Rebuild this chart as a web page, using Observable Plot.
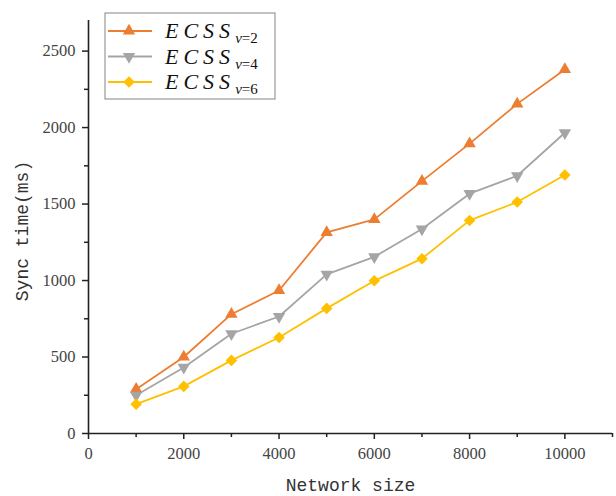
<!DOCTYPE html>
<html><head><meta charset="utf-8">
<script src="https://cdn.jsdelivr.net/npm/d3@7"></script>
<script src="https://cdn.jsdelivr.net/npm/@observablehq/plot@0.6"></script>
<style>
body{margin:0;background:#fff}
#chart{width:616px;height:496px;position:relative}
</style>
</head><body><div id="chart"></div>
<script>
// ---- data ----
const networkSize = [1000, 2000, 3000, 4000, 5000, 6000, 7000, 8000, 9000, 10000];
const seriesSubs = ["v=2", "v=4", "v=6"];
const syncV2 = [290, 500, 780, 935, 1315, 1400, 1650, 1895, 2155, 2380];
const syncV4 = [250, 432, 652, 765, 1040, 1155, 1337, 1568, 1685, 1966];
const syncV6 = [192, 308, 478, 628, 818, 998, 1143, 1393, 1513, 1690];
const xTicks = [0, 2000, 4000, 6000, 8000, 10000];
const xMinorTicks = [1000, 3000, 5000, 7000, 9000, 11000];
const yTicks = [0, 500, 1000, 1500, 2000, 2500];
const yMinorTicks = [250, 750, 1250, 1750, 2250];
const xTitle = "Network size";
const yTitle = "Sync time(ms)";
const colors = ["#ED7D31", "#A5A5A5", "#FFC000"];

const triangleDown = {
  draw(ctx, size) {
    const y = -Math.sqrt(size / (Math.sqrt(3) * 3));
    ctx.moveTo(0, -2 * y);
    ctx.lineTo(-Math.sqrt(3) * y, y);
    ctx.lineTo(Math.sqrt(3) * y, y);
    ctx.closePath();
  }
};
const symbols = [d3.symbolTriangle, triangleDown, d3.symbolDiamond2];
const radii = [4.6, 4.6, 5.2];

const allValues = [syncV2, syncV4, syncV6];
const series = allValues.map((vals, i) =>
  networkSize.map((x, j) => ({x, y: vals[j], s: seriesSubs[i]})));

const marks = [];
series.forEach((d, i) => {
  marks.push(Plot.line(d, {x: "x", y: "y", stroke: colors[i], strokeWidth: 1.8}));
});
series.forEach((d, i) => {
  marks.push(Plot.dot(d, {x: "x", y: "y", fill: colors[i], stroke: "none", symbol: symbols[i], r: radii[i]}));
});

const plot = Plot.plot({
  width: 616,
  height: 496,
  marginLeft: 88,
  marginRight: 4,
  marginTop: 20,
  marginBottom: 63,
  style: {background: "#fff"},
  x: {domain: [0, 11000], label: null},
  y: {domain: [0, 2700], label: null},
  marks: [
    Plot.axisX({ticks: xTicks, tickSize: 6, tickPadding: 8, tickFormat: d => String(d), label: null, stroke: "#222", strokeWidth: 1.5}),
    Plot.axisX({ticks: xMinorTicks, tickSize: 4, tickFormat: () => "", label: null, stroke: "#222", strokeWidth: 1.5}),
    Plot.axisY({ticks: yTicks, tickSize: 6, tickPadding: 7, tickFormat: d => String(d), label: null, stroke: "#222", strokeWidth: 1.5}),
    Plot.axisY({ticks: yMinorTicks, tickSize: 4, tickFormat: () => "", label: null, stroke: "#222", strokeWidth: 1.5}),
    Plot.ruleY([0], {stroke: "#222", strokeWidth: 1.6}),
    Plot.ruleX([0], {stroke: "#222", strokeWidth: 1.6}),
    Plot.text([xTitle], {frameAnchor: "bottom", lineAnchor: "middle", textAnchor: "middle", dy: 52, fontFamily: "'Liberation Mono', monospace", fontSize: 18, fill: "#333"}),
    Plot.text([yTitle], {frameAnchor: "left", lineAnchor: "middle", textAnchor: "middle", dx: -66, dy: 4, rotate: -90, fontFamily: "'Liberation Mono', monospace", fontSize: 18, fill: "#333"}),
    ...marks
  ]
});
document.getElementById("chart").appendChild(plot);

const svg = d3.select(plot);
// tick labels in a serif face
svg.selectAll("text")
  .filter(function() { return /^\d+$/.test(this.textContent); })
  .style("font-family", "'Liberation Serif', serif")
  .style("font-size", "16.5px")
  .style("fill", "#444");

// ---- legend (drawn into the same svg) ----
const lg = svg.append("g").attr("transform", "translate(105,13)");
lg.append("rect").attr("width", 170).attr("height", 86)
  .attr("fill", "#fff").attr("stroke", "#999").attr("stroke-width", 1.2);
seriesSubs.forEach((sub, i) => {
  const cy = 18 + i * 25.5;
  lg.append("line").attr("x1", 3).attr("x2", 47).attr("y1", cy).attr("y2", cy)
    .attr("stroke", colors[i]).attr("stroke-width", 1.8);
  const r = radii[i];
  lg.append("path").attr("transform", `translate(24,${cy})`)
    .attr("d", d3.symbol(symbols[i], Math.PI * r * r)()).attr("fill", colors[i]);
  const t = lg.append("text").attr("x", 60).attr("y", cy + 7)
    .attr("text-anchor", "start")
    .attr("font-family", "'Liberation Serif', serif").attr("fill", "#111");
  t.append("tspan").attr("font-style", "italic").attr("font-size", 22)
    .attr("letter-spacing", 5).text("ECSS");
  t.append("tspan").attr("font-style", "italic").attr("font-size", 15).attr("dx", 0).attr("dy", 5).text(sub.slice(0, 1));
  t.append("tspan").attr("font-size", 15).text(sub.slice(1));
});
</script>
</body></html>
